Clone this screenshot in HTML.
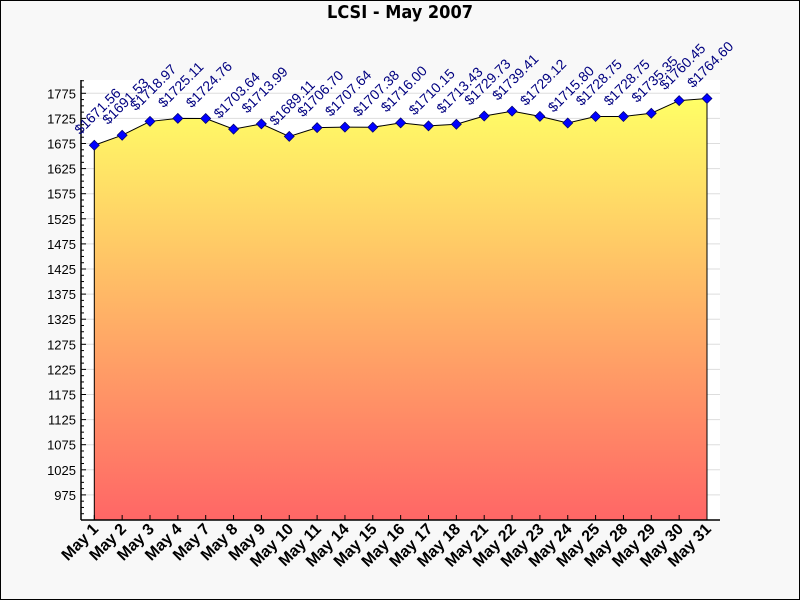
<!DOCTYPE html>
<html><head><meta charset="utf-8"><style>
html,body{margin:0;padding:0;background:#f8f8f8}
svg{display:block}
</style></head><body>
<svg id="chart" width="800" height="600" xmlns="http://www.w3.org/2000/svg">
<defs><linearGradient id="g" x1="0" y1="0" x2="0" y2="1">
<stop offset="0" stop-color="#ffff66"/><stop offset="1" stop-color="#ff6666"/></linearGradient></defs>
<rect x="0.5" y="0.5" width="799" height="599" fill="#f8f8f8" stroke="#000"/>
<text x="400" y="18" text-anchor="middle" font-family="DejaVu Sans Condensed, DejaVu Sans, sans-serif" font-weight="bold" font-size="18">LCSI - May 2007</text>
<rect x="81" y="80" width="639" height="440" fill="#fff"/>
<g id="grid"></g><g id="area"></g><g id="axes"></g><g id="marks"></g><g id="labels"></g>
</svg>
<script>
const categories=["May 1","May 2","May 3","May 4","May 7","May 8","May 9","May 10","May 11","May 14","May 15","May 16","May 17","May 18","May 21","May 22","May 23","May 24","May 25","May 28","May 29","May 30","May 31"];
const values=[1671.56,1691.53,1718.97,1725.11,1724.76,1703.64,1713.99,1689.11,1706.70,1707.64,1707.38,1716.00,1710.15,1713.43,1729.73,1739.41,1729.12,1715.80,1728.75,1728.75,1735.35,1760.45,1764.60];
const yTicks=[975,1025,1075,1125,1175,1225,1275,1325,1375,1425,1475,1525,1575,1625,1675,1725,1775];
const NS="http://www.w3.org/2000/svg";
const L=81,R=720,T=80,B=520;
const x0=94.3,x1=707;
function xs(i){return x0+i*(x1-x0)/(categories.length-1);}
function ys(v){return 93.3+(1775-v)*0.502;}
function mk(tag,attrs,parent){const e=document.createElementNS(NS,tag);for(const k in attrs)e.setAttribute(k,attrs[k]);document.getElementById(parent).appendChild(e);return e;}
yTicks.forEach(v=>{
 const y=ys(v);
 let g=mk('line',{x1:L,x2:R,y1:y,y2:y,stroke:'#ddd','stroke-width':1},'grid');
 
 
 let t=mk('text',{x:L-5,y:y+5,'text-anchor':'end','font-family':'Liberation Sans, sans-serif','font-size':13,fill:'#000'},'axes');
 t.textContent=v;
 
 
});
for(let v=925;v<=1805;v+=12.5){const y=ys(v);if(y<T||y>B)continue;
 let m=mk('line',{x1:L,x2:L+(v%50===25?5:3),y1:y,y2:y,stroke:'#000'},'axes');
 
 }
let d='M'+xs(0)+','+B;
values.forEach((v,i)=>{d+=' L'+xs(i)+','+ys(v);});
d+=' L'+xs(values.length-1)+','+B+' Z';
let a=mk('path',{d:d,fill:'url(#g)',stroke:'none'},'area');


let ld='';values.forEach((v,i)=>{ld+=' L'+xs(i)+','+ys(v);});
ld+=' L'+xs(values.length-1)+','+B;
let ln=mk('path',{d:'M'+xs(0)+','+B+ld,fill:'none',stroke:'#000','stroke-width':1},'area');


let ya=mk('line',{x1:L,x2:L,y1:T,y2:B,stroke:'#000','stroke-width':1.5},'axes');


let xa=mk('line',{x1:L,x2:R,y1:B,y2:B,stroke:'#000','stroke-width':1.5},'axes');


categories.forEach((c,i)=>{
 const x=xs(i);
 let tk=mk('line',{x1:x,x2:x,y1:B,y2:B-5,stroke:'#000'},'axes');
 
 
 const ax=x+5,ay=B+10;
 let t=mk('text',{x:ax,y:ay,'text-anchor':'end','font-family':'Liberation Sans, sans-serif','font-weight':'bold','font-size':16,fill:'#000',transform:'rotate(-45 '+ax+' '+ay+')'},'axes');
 t.textContent=c;
 
 
});
values.forEach((v,i)=>{
 const x=xs(i),y=ys(v);
 let p=mk('path',{d:`M${x},${y-5} L${x+5},${y} L${x},${y+5} L${x-5},${y} Z`,fill:'#0000ff',stroke:'#000066','stroke-width':0.7},'marks');
 
 
 const lx=x-14,ly=y-10;
 let t=mk('text',{x:lx,y:ly,'font-family':'Liberation Sans, sans-serif','font-size':14,fill:'#000080',transform:'rotate(-45 '+lx+' '+ly+')'},'labels');
 t.textContent='$'+v.toFixed(2);
 
 
});
</script>
</body></html>
